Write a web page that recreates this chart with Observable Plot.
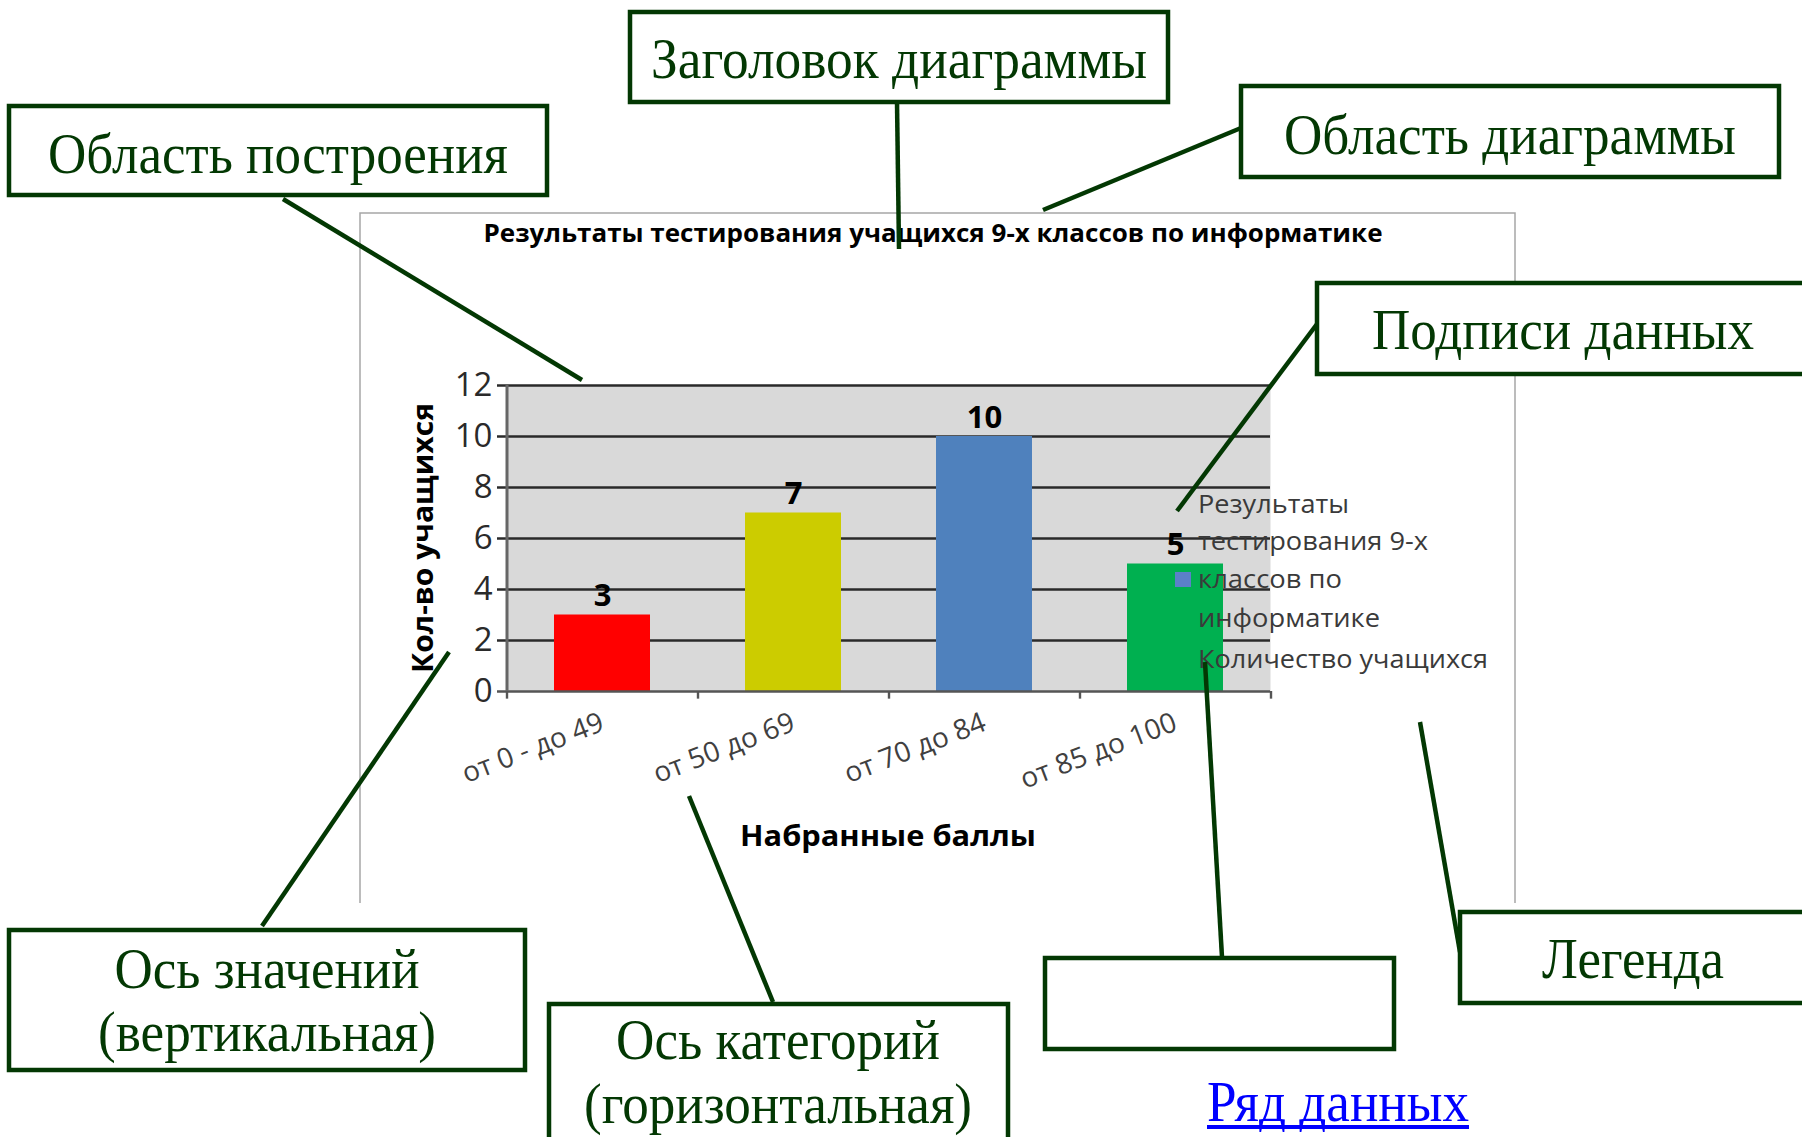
<!DOCTYPE html>
<html><head><meta charset="utf-8">
<script src="https://cdn.jsdelivr.net/npm/d3@7"></script>
<script src="https://cdn.jsdelivr.net/npm/@observablehq/plot@0.6"></script>
<style>
html,body{margin:0;padding:0;background:#fff;}
#wrap{position:relative;width:1802px;height:1137px;overflow:hidden;background:#fff;}
#chart{position:absolute;left:360px;top:213px;}
#overlay{position:absolute;left:0;top:0;}
</style></head><body>
<div id="wrap"><div id="chart"></div><svg id="overlay" width="1802" height="1137"></svg></div>
<script>
// ---- data ----
const categories = ["от 0 - до 49", "от 50 до 69", "от 70 до 84", "от 85 до 100"];
const counts = [3, 7, 10, 5];
const barColors = ["#ff0000", "#cccc00", "#4f81bd", "#00b050"];
const yTicks = [0, 2, 4, 6, 8, 10, 12];
const chartTitle = "Результаты тестирования учащихся 9-х классов по информатике";
const yTitle = "Кол-во учащихся";
const xTitle = "Набранные баллы";
const legendNameLines = ["Результаты", "тестирования 9-х", "классов по", "информатике"];
const legendSeries = "Количество учащихся";
const linkText = "Ряд данных";

// ---- chart ----
const W = 1155, H = 689, ML = 146, MR = 245, MT = 172, MB = 211;
const step = (W - ML - MR) / categories.length;
const data = categories.map((c, i) => ({cat: c, n: counts[i], color: barColors[i]}));
const FONT = "'Open Sans', 'Noto Sans', sans-serif";

const chart = Plot.plot({
  width: W, height: H, marginLeft: ML, marginRight: MR, marginTop: MT, marginBottom: MB,
  style: {background: "transparent", fontFamily: FONT, overflow: "visible"},
  x: {domain: categories, paddingInner: 0.5, paddingOuter: 0.25},
  y: {domain: [0, 12]},
  color: {type: "identity"},
  marks: [
    Plot.frame({fill: "#d9d9d9", stroke: null}),
    Plot.ruleY(yTicks.filter(t => t > 0), {stroke: "#2a2a2a", strokeWidth: 2.6, insetLeft: -9}),
    Plot.barY(data, {x: "cat", y: "n", fill: "color"}),
    Plot.ruleY([0], {stroke: "#555", strokeWidth: 2.6, insetLeft: -9}),
    Plot.ruleX([categories[0]], {x: d => d, dx: -step / 2, y1: 0, y2: 12, stroke: "#666", strokeWidth: 3}),
    Plot.ruleX(categories, {x: d => d, dx: -step / 2, y1: 0, y2: -0.3, stroke: "#555", strokeWidth: 2.4}),
    Plot.ruleX([categories[categories.length - 1]], {x: d => d, dx: step / 2, y1: 0, y2: -0.3, stroke: "#555", strokeWidth: 2.4}),
    Plot.text(data, {x: "cat", y: "n", text: d => String(d.n), dy: -9, lineAnchor: "bottom", fontWeight: "bold", fontSize: 31, fill: "#000"}),
    Plot.axisY(yTicks, {tickSize: 0, tickPadding: 14, fontSize: 33, color: "#2a2a2a", label: null}),
    Plot.axisX({tickRotate: -21, tickSize: 0, tickPadding: 30, fontSize: 28, color: "#404040", label: null})
  ]
});
document.getElementById("chart").appendChild(chart);

// ---- overlay: chart area frame, titles, legend, callouts ----
const svg = d3.select("#overlay");
svg.append("path").attr("d", "M360,903V213H1515V903").attr("fill", "none")
  .attr("stroke", "#a6a6a6").attr("stroke-width", 1.5);

function txt(s, x, y, o) {
  const t = svg.append("text").attr("x", x).attr("y", y).text(s)
    .attr("font-family", o.family || FONT).attr("font-size", o.size)
    .attr("font-weight", o.weight || "normal").attr("fill", o.fill || "#000")
    .attr("text-anchor", o.anchor || "start");
  if (o.len) t.attr("textLength", o.len).attr("lengthAdjust", "spacingAndGlyphs");
  if (o.transform) t.attr("transform", o.transform);
  return t;
}
txt(chartTitle, 933, 242, {size: 25, weight: "bold", anchor: "middle", len: 899});
txt(yTitle, 0, 0, {size: 28, weight: "bold", anchor: "middle", len: 270, transform: "translate(433,538) rotate(-90)"});
txt(xTitle, 888, 846, {size: 28, weight: "bold", anchor: "middle", len: 296});

// legend
svg.append("rect").attr("x", 1175).attr("y", 572).attr("width", 16).attr("height", 15).attr("fill", "#5b80c8");
const legendBase = [513, 550, 588, 627];
const legendLen = [151, 230, 144, 182];
legendNameLines.forEach((s, i) => txt(s, 1198, legendBase[i], {size: 25, fill: "#3a3a3a", len: legendLen[i]}));
txt(legendSeries, 1198, 668, {size: 25, fill: "#3a3a3a", len: 290});

// callouts
const SERIF = "'Liberation Serif', 'DejaVu Serif', serif";
const GREEN = "#033803";
const callouts = [
  {lines: ["Заголовок диаграммы"], box: [630, 12, 538, 90], tx: 899, ty: [78], tl: [496], ln: [897, 102, 899, 249]},
  {lines: ["Область построения"], box: [9, 106, 538, 89], tx: 278, ty: [173], tl: [460], ln: [283, 199, 582, 380]},
  {lines: ["Область диаграммы"], box: [1241, 86, 538, 91], tx: 1510, ty: [154], tl: [452], ln: [1241, 128, 1043, 210]},
  {lines: ["Подписи данных"], box: [1317, 283, 540, 91], tx: 1563, ty: [349], tl: [382], ln: [1317, 324, 1177, 511]},
  {lines: ["Ось значений", "(вертикальная)"], box: [9, 930, 516, 140], tx: 267, ty: [988, 1051], tl: [305, 338], ln: [262, 926, 449, 652]},
  {lines: ["Ось категорий", "(горизонтальная)"], box: [549, 1004, 459, 170], tx: 778, ty: [1059, 1123], tl: [324, 388], ln: [773, 1002, 689, 796]},
  {lines: [], box: [1045, 958, 349, 91], ln: [1222, 957, 1205, 662]},
  {lines: ["Легенда"], box: [1460, 912, 400, 91], tx: 1633, ty: [978], tl: [182], ln: [1460, 952, 1420, 722]}
];
callouts.forEach(c => {
  svg.append("line").attr("x1", c.ln[0]).attr("y1", c.ln[1]).attr("x2", c.ln[2]).attr("y2", c.ln[3])
    .attr("stroke", GREEN).attr("stroke-width", 4.5);
});
callouts.forEach(c => {
  svg.append("rect").attr("x", c.box[0]).attr("y", c.box[1]).attr("width", c.box[2]).attr("height", c.box[3])
    .attr("fill", "#fff").attr("stroke", GREEN).attr("stroke-width", 4.5);
  c.lines.forEach((s, i) => txt(s, c.tx, c.ty[i], {family: SERIF, size: 58, fill: GREEN, anchor: "middle", len: c.tl[i]}));
});
txt(linkText, 1338, 1121, {family: SERIF, size: 57, fill: "#0000ff", anchor: "middle", len: 262});
svg.append("rect").attr("x", 1207).attr("y", 1125).attr("width", 262).attr("height", 4).attr("fill", "#0000ff");
</script>
</body></html>
